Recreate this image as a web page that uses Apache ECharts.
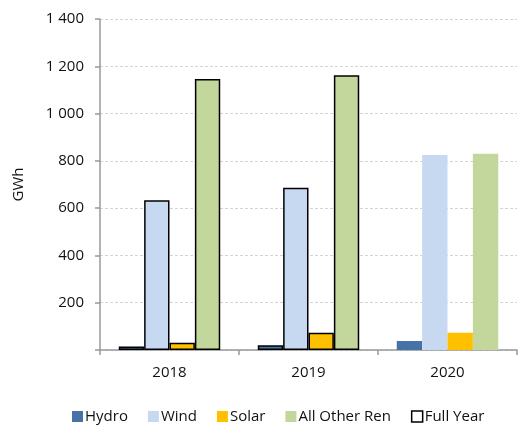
<!DOCTYPE html>
<html>
<head>
    <meta charset="utf-8">
    <title>Renewables GWh</title>
    <script src="https://cdn.jsdelivr.net/npm/echarts@6/dist/echarts.min.js"></script>
    <style>
        html, body { margin: 0; padding: 0; background: #fff; }
        #chart { width: 518px; height: 430px; }
    </style>
</head>
<body>
<div id="chart"></div>
<script>
    var years = ['2018', '2019', '2020'];
    var hydro = [15, 20, 38];
    var wind = [633, 686, 825];
    var solar = [31, 73, 73];
    var otherRen = [1146, 1162, 830];
    // 2018 and 2019 are full years (outlined bars), 2020 is partial
    var fullYear = [true, true, false];

    var font = '"Open Sans", "Noto Sans", sans-serif';

    function withBorder(values) {
        return values.map(function (v, i) {
            return {
                value: v,
                itemStyle: fullYear[i] ? {borderColor: '#000', borderWidth: 1.5} : {borderWidth: 0}
            };
        });
    }

    function barSeries(name, color, values) {
        return {
            name: name,
            type: 'bar',
            barGap: '0%',
            barCategoryGap: '27%',
            itemStyle: {color: color},
            data: withBorder(values)
        };
    }

    var chart = echarts.init(document.getElementById('chart'));
    var option = {
        animation: false,
        textStyle: {fontFamily: font},
        grid: {left: 100, right: 1, top: 19, bottom: 80},
        legend: {
            bottom: 1,
            left: 67,
            itemWidth: 11,
            itemHeight: 11,
            itemGap: 20,
            textStyle: {fontSize: 15, color: '#111', fontFamily: font, padding: [0, 0, 0, -3]},
            data: [
                {name: 'Hydro', icon: 'rect'},
                {name: 'Wind', icon: 'rect'},
                {name: 'Solar', icon: 'rect'},
                {name: 'All Other Ren', icon: 'rect'},
                {name: 'Full Year', icon: 'rect', itemStyle: {color: '#fff', borderColor: '#000', borderWidth: 1.5}}
            ]
        },
        xAxis: {
            type: 'category',
            data: years,
            axisLine: {lineStyle: {color: '#999', width: 1.5}},
            axisTick: {show: true, length: 5, lineStyle: {color: '#999', width: 1.5}},
            axisLabel: {color: '#111', fontSize: 15, margin: 15}
        },
        yAxis: {
            type: 'value',
            min: 0,
            max: 1400,
            interval: 200,
            name: 'GWh',
            nameLocation: 'middle',
            nameGap: 74,
            nameTextStyle: {color: '#111', fontSize: 15},
            axisLine: {show: true, lineStyle: {color: '#999', width: 1.5}},
            axisTick: {show: true, length: 5, lineStyle: {color: '#999', width: 1.5}},
            axisLabel: {
                color: '#111',
                fontSize: 15,
                margin: 16,
                formatter: function (v) {
                    if (v === 0) return '';
                    return String(v).replace(/\B(?=(\d{3})+(?!\d))/g, ' ');
                }
            },
            splitLine: {lineStyle: {color: '#d4d4d4', type: [3, 2]}},
        },
        series: [
            barSeries('Hydro', '#4672a8', hydro),
            barSeries('Wind', '#c6d9f1', wind),
            barSeries('Solar', '#ffc000', solar),
            barSeries('All Other Ren', '#c3d69b', otherRen),
            {
                name: 'Full Year',
                type: 'line',
                itemStyle: {color: '#fff', borderColor: '#000', borderWidth: 1.5},
                data: []
            }
        ]
    };
    chart.setOption(option);
</script>
</body>
</html>
